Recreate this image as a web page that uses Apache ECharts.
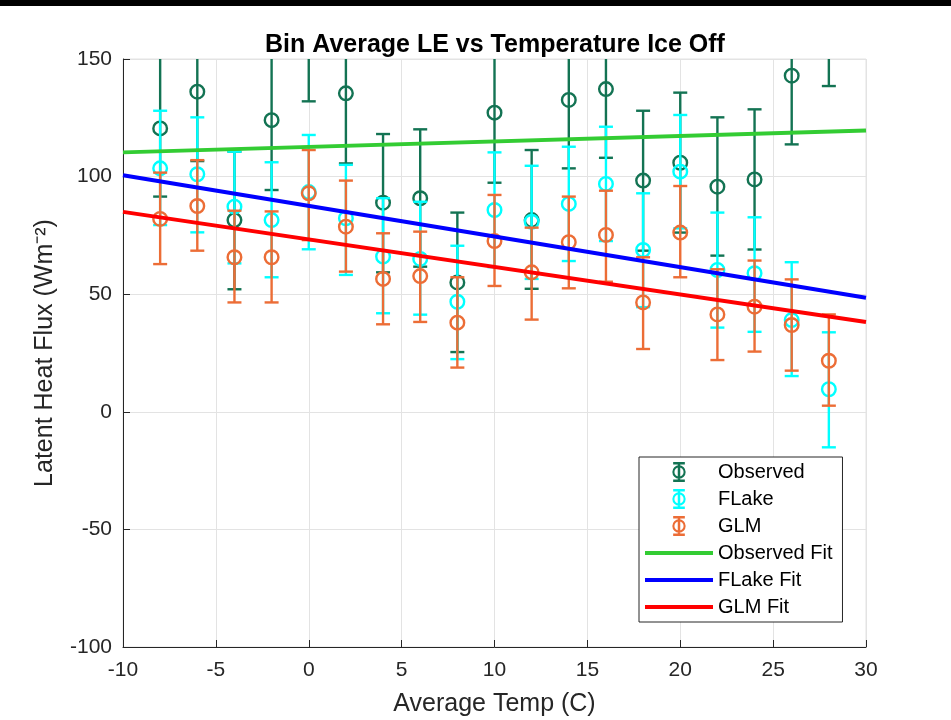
<!DOCTYPE html>
<html>
<head>
<meta charset="utf-8">
<script src="https://cdn.jsdelivr.net/npm/echarts@6/dist/echarts.min.js"></script>
<style>
  html, body { margin: 0; padding: 0; background: #fff; }
  #chart { width: 951px; height: 720px; }
</style>
</head>
<body>
<div id="chart"></div>
<script>
  // bin centres (C)
  var temps = [-8, -6, -4, -2, 0, 2, 4, 6, 8, 10, 12, 14, 16, 18, 20, 22, 24, 26, 28];

  // observed bin means and error-bar ends
  var obsMean = [120.5, 136.1, 81.5, 124.0, 162.0, 135.4, 88.9, 90.8, 55.0, 127.2, 81.5, 132.6, 137.2, 98.3, 105.9, 95.7, 98.8, 142.9, 168.0];
  var obsLow  = [91.5, 106.6, 52.1, 94.3, 132.0, 105.6, 59.3, 61.7, 25.4, 97.4, 52.3, 103.5, 108.0, 68.5, 76.2, 66.4, 69.0, 113.7, 138.5];
  var obsHigh = [152.0, 165.6, 110.6, 153.7, 192.0, 165.2, 118.1, 120.1, 84.7, 157.0, 111.3, 161.7, 166.4, 128.0, 135.7, 125.2, 128.6, 172.1, 197.5];

  // FLake
  var flakeMean = [103.5, 101.0, 87.2, 81.5, 93.4, 82.3, 66.0, 65.0, 46.8, 85.8, 80.8, 88.4, 96.9, 68.8, 102.1, 60.3, 58.9, 39.0, 9.6];
  var flakeLow  = [79.4, 76.3, 63.1, 57.2, 69.1, 58.2, 41.9, 41.3, 22.4, 61.5, 56.5, 64.1, 72.6, 44.5, 78.0, 35.8, 34.0, 15.2, -15.1];
  var flakeHigh = [128.0, 125.2, 110.6, 106.1, 117.7, 105.0, 90.8, 89.3, 70.6, 110.3, 104.6, 112.7, 121.2, 92.9, 126.2, 84.7, 82.7, 63.6, 33.8];

  // GLM
  var glmMean = [82.0, 87.5, 65.7, 65.7, 92.9, 78.7, 56.5, 57.7, 37.9, 72.6, 59.3, 72.1, 75.2, 46.5, 76.2, 41.4, 44.7, 36.9, 21.7];
  var glmLow  = [62.8, 68.5, 46.5, 46.5, 73.0, 59.6, 37.2, 38.2, 18.8, 53.5, 39.2, 52.5, 55.3, 26.7, 57.2, 22.0, 25.6, 17.5, 2.6];
  var glmHigh = [101.7, 107.0, 85.5, 85.2, 111.3, 98.3, 75.9, 76.6, 57.2, 92.2, 78.3, 91.5, 94.0, 65.7, 96.0, 60.6, 64.3, 56.3, 41.4];

  // linear fits, evaluated at the ends of the x range
  var fitTemp = [-10, 30];
  var obsFit = [110.3, 119.6];
  var flakeFit = [100.6, 48.5];
  var glmFit = [85.0, 38.2];

  var font = 'Liberation Sans, Arial, Helvetica, sans-serif';
  // legend glyphs: error bar with circle, and a thick line
  var phi = 'path://M1,0H15V3H1Z M1,21H15V24H1Z M6.5,3H9.5V21H6.5Z ' +
    'M16,12A8,8 0 1,1 0,12A8,8 0 1,1 16,12Z M13.5,12A5.5,5.5 0 1,0 2.5,12A5.5,5.5 0 1,0 13.5,12Z';
  var bar = 'path://M0,0H68V4H0Z';

  function rows(mean, low, high) {
    return temps.map(function (t, i) { return [t, mean[i], low[i], high[i]]; });
  }

  function fitRows(vals) {
    return fitTemp.map(function (t, i) { return [t, vals[i]]; });
  }

  function errorBars(color) {
    return function (params, api) {
      var cs = params.coordSys;
      var top = cs.y, bot = cs.y + cs.height;
      var c = api.coord([api.value(0), api.value(1)]);
      var lo = api.coord([api.value(0), api.value(2)])[1];
      var hi = api.coord([api.value(0), api.value(3)])[1];
      var x = c[0];
      var st = { stroke: color, lineWidth: 2.4 };
      var kids = [];
      var y1 = Math.max(hi, top), y2 = Math.min(lo, bot);
      if (y2 > y1) kids.push({ type: 'line', shape: { x1: x, y1: y1, x2: x, y2: y2 }, style: st });
      [lo, hi].forEach(function (y) {
        if (y >= top && y <= bot) {
          kids.push({ type: 'line', shape: { x1: x - 7, y1: y, x2: x + 7, y2: y }, style: st });
        }
      });
      if (c[1] >= top + 3) {
        kids.push({ type: 'circle', shape: { cx: x, cy: c[1], r: 6.8 }, style: { fill: 'none', stroke: color, lineWidth: 2.4 } });
      }
      return { type: 'group', children: kids };
    };
  }

  function errSeries(name, color, data) {
    return {
      name: name,
      type: 'custom',
      itemStyle: { color: color },
      renderItem: errorBars(color),
      encode: { x: 0, y: 1 },
      data: data
    };
  }

  function fitSeries(name, color, data) {
    return {
      name: name,
      type: 'line',
      symbol: 'none',
      color: color,
      itemStyle: { color: color },
      lineStyle: { color: color, width: 4 },
      data: data
    };
  }

  var chart = echarts.init(document.getElementById('chart'));
  chart.setOption({
    animation: false,
    graphic: [{
      type: 'rect', left: 0, top: 0, shape: { width: 951, height: 6 },
      style: { fill: '#000' }, silent: true
    }],
    title: {
      text: 'Bin Average LE vs Temperature Ice Off',
      left: 490, top: 28, textAlign: 'center',
      textStyle: { fontFamily: font, fontSize: 25, fontWeight: 'bold', color: '#000' }
    },
    grid: {
      left: 123, right: 85, top: 59, bottom: 73,
      outerBoundsMode: 'none',
      show: true, borderColor: '#e3e3e3', borderWidth: 1
    },
    legend: {
      orient: 'vertical',
      left: 639, top: 457,
      padding: [5, 10, 5, 6],
      itemWidth: 68, itemHeight: 20, itemGap: 7,
      borderColor: '#262626', borderWidth: 1, borderRadius: 0,
      backgroundColor: '#fff',
      textStyle: { fontFamily: font, fontSize: 20, color: '#000' },
      data: [
        { name: 'Observed', icon: phi },
        { name: 'FLake', icon: phi },
        { name: 'GLM', icon: phi },
        { name: 'Observed Fit', icon: bar },
        { name: 'FLake Fit', icon: bar },
        { name: 'GLM Fit', icon: bar }
      ]
    },
    xAxis: {
      type: 'value', min: -10, max: 30, interval: 5,
      name: 'Average Temp (C)', nameLocation: 'middle', nameGap: 45,
      nameTextStyle: { fontFamily: font, fontSize: 25, color: '#262626' },
      axisLine: { onZero: false, lineStyle: { color: '#262626', width: 1 } },
      axisTick: { inside: true, length: 7, lineStyle: { color: '#262626' } },
      axisLabel: { fontFamily: font, fontSize: 21, color: '#262626', margin: 13 },
      splitLine: { lineStyle: { color: '#e3e3e3', width: 1 } }
    },
    yAxis: {
      type: 'value', min: -100, max: 150, interval: 50,
      name: 'Latent Heat Flux (Wm\u207B\u00B2)', nameLocation: 'middle', nameGap: 65,
      nameTextStyle: { fontFamily: font, fontSize: 25, color: '#262626' },
      axisLine: { onZero: false, lineStyle: { color: '#262626', width: 1 } },
      axisTick: { inside: true, length: 7, lineStyle: { color: '#262626' } },
      axisLabel: { fontFamily: font, fontSize: 21, color: '#262626', margin: 11 },
      splitLine: { lineStyle: { color: '#e3e3e3', width: 1 } }
    },
    series: [
      errSeries('Observed', '#137353', rows(obsMean, obsLow, obsHigh)),
      errSeries('FLake', '#00ffff', rows(flakeMean, flakeLow, flakeHigh)),
      errSeries('GLM', '#ec6d36', rows(glmMean, glmLow, glmHigh)),
      fitSeries('Observed Fit', '#33cc33', fitRows(obsFit)),
      fitSeries('FLake Fit', '#0000ff', fitRows(flakeFit)),
      fitSeries('GLM Fit', '#ff0000', fitRows(glmFit))
    ]
  });
</script>
</body>
</html>
